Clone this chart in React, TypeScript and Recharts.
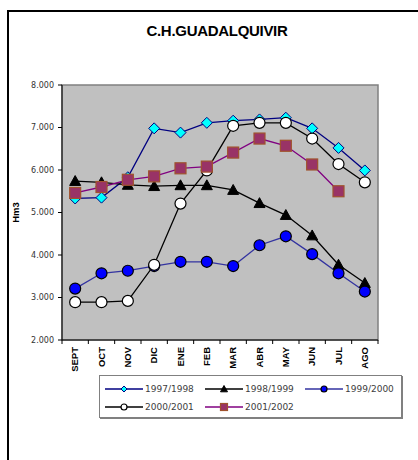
import { LineChart, Line, XAxis, YAxis, CartesianGrid, Label, usePlotArea } from "recharts"

const months = ["SEPT", "OCT", "NOV", "DIC", "ENE", "FEB", "MAR", "ABR", "MAY", "JUN", "JUL", "AGO"]
const yTicks = [2000, 3000, 4000, 5000, 6000, 7000, 8000]

const s9798 = [5330, 5350, 5830, 6980, 6880, 7110, 7160, 7190, 7230, 6980, 6520, 5990]
const s9899 = [5740, 5710, 5650, 5620, 5640, 5640, 5530, 5220, 4940, 4460, 3770, 3340]
const s9900 = [3210, 3570, 3630, 3740, 3840, 3840, 3740, 4230, 4440, 4020, 3570, 3140]
const s0001 = [2890, 2890, 2920, 3770, 5210, 5990, 7040, 7110, 7110, 6740, 6140, 5710]
const s0102 = [5460, 5600, 5770, 5850, 6040, 6080, 6410, 6740, 6570, 6130, 5500, null]

const data = months.map((m, i) => ({
  mes: m,
  a: s9798[i],
  b: s9899[i],
  c: s9900[i],
  d: s0001[i],
  e: s0102[i],
}))

const CHART_W = 418
const CHART_H = 460
const MARGIN = { top: 85, right: 40, left: 8, bottom: 80 }
const Y_AXIS_W = 54
const BAND = (CHART_W - MARGIN.left - MARGIN.right - Y_AXIS_W) / months.length

// marcadores
const Diamond = ({ cx, cy, r = 5.5, fill = "#00FFFF", stroke = "#000080" }: any) => (
  <path d={`M${cx},${cy - r}L${cx + r},${cy}L${cx},${cy + r}L${cx - r},${cy}Z`} fill={fill} stroke={stroke} strokeWidth={1} />
)
const Triangle = ({ cx, cy, r = 5.5 }: any) => (
  <path d={`M${cx},${cy - r}L${cx + r},${cy + r * 0.8}L${cx - r},${cy + r * 0.8}Z`} fill="#000" stroke="#000" strokeWidth={1} />
)
const Circle = ({ cx, cy, r = 5.5, fill }: any) => (
  <circle cx={cx} cy={cy} r={r} fill={fill} stroke="#000" strokeWidth={1.2} />
)
const Square = ({ cx, cy, r = 5.5 }: any) => (
  <rect x={cx - r} y={cy - r} width={r * 2} height={r * 2} fill="#993366" stroke="#A0522D" strokeWidth={1.2} />
)

const dotFn = (Comp: any, extra: any = {}) => (p: any) => {
  if (p.cx == null || p.cy == null || p.value == null) return <g key={`n-${p.index}`} />
  return <Comp key={`d-${p.index}`} cx={p.cx} cy={p.cy} {...extra} />
}

const formatTick = (v: number) => v.toLocaleString("de-DE", { minimumFractionDigits: 0 }).replace(",", ".")

const MonthTick = ({ x, y, payload, index }: any) => (
  <g>
    <line x1={x - BAND / 2} x2={x - BAND / 2} y1={y} y2={y + 4} stroke="#000" />
    {index === months.length - 1 && (
      <line x1={x + BAND / 2} x2={x + BAND / 2} y1={y} y2={y + 4} stroke="#000" />
    )}
    <text
      transform={`translate(${x},${y + 7}) rotate(-90)`}
      textAnchor="end"
      dy="0.35em"
      fontFamily="'Liberation Sans', Arial, sans-serif"
      fontWeight="bold"
      fontSize={9.5}
      fill="#000"
    >
      {payload.value}
    </text>
  </g>
)

function PlotFrame() {
  const area = usePlotArea()
  if (!area) return null
  return (
    <rect x={area.x} y={area.y} width={area.width} height={area.height} fill="none" stroke="#808080" strokeWidth={1.5} />
  )
}

const legendRows = [
  [
    { name: "1997/1998", color: "#000080", icon: "diamond" },
    { name: "1998/1999", color: "#000000", icon: "triangle" },
    { name: "1999/2000", color: "#3333A0", icon: "blue" },
  ],
  [
    { name: "2000/2001", color: "#000000", icon: "white" },
    { name: "2001/2002", color: "#800080", icon: "square" },
  ],
]

function LegendIcon({ icon, color }: any) {
  const cx = 19
  const cy = 5
  return (
    <svg width={38} height={10} style={{ display: "block" }}>
      <line x1={0} x2={38} y1={cy} y2={cy} stroke={color} strokeWidth={1.3} />
      {icon === "diamond" && <Diamond cx={cx} cy={cy} r={3} />}
      {icon === "triangle" && <Triangle cx={cx} cy={cy} r={3.5} />}
      {icon === "blue" && <Circle cx={cx} cy={cy} r={3} fill="#0000FF" />}
      {icon === "white" && <Circle cx={cx} cy={cy} r={3} fill="#FFFFFF" />}
      {icon === "square" && <Square cx={cx} cy={cy} r={3.5} />}
    </svg>
  )
}

export default function App() {
  return (
    <div style={{ position: "relative", width: CHART_W, height: CHART_H, overflow: "hidden", background: "#fff" }}>
      <style>{`body{margin:0}`}</style>
      <div
        style={{
          position: "absolute",
          left: 7,
          top: 10,
          width: 440,
          height: 480,
          border: "2px solid #000",
          boxSizing: "border-box",
        }}
      />
      <div
        style={{
          position: "absolute",
          left: 0,
          top: 22,
          width: CHART_W + 16,
          textAlign: "center",
          fontFamily: "'Liberation Sans', Arial, sans-serif",
          fontWeight: "bold",
          fontSize: 15,
          letterSpacing: -0.3,
        }}
      >
        C.H.GUADALQUIVIR
      </div>
      <div style={{ position: "absolute", left: 0, top: 0 }}>
        <LineChart width={CHART_W} height={CHART_H} data={data} margin={MARGIN}>
          <CartesianGrid horizontal={false} vertical={false} fill="#C0C0C0" stroke="none" />
          <PlotFrame />
          <XAxis
            dataKey="mes"
            scale="band"
            interval={0}
            height={40}
            tickSize={0}
            tickMargin={0}
            tickLine={false}
            axisLine={{ stroke: "#000" }}
            tick={<MonthTick />}
          />
          <YAxis
            width={Y_AXIS_W}
            domain={[2000, 8000]}
            ticks={yTicks}
            interval={0}
            tickFormatter={formatTick}
            tickSize={4}
            tickMargin={4}
            tickLine={{ stroke: "#000" }}
            axisLine={{ stroke: "#000" }}
            tick={{ fontSize: 8, fill: "#333", fontFamily: "'DejaVu Sans', sans-serif" }}
          >
            <Label
              value="Hm3"
              angle={-90}
              position="insideLeft"
              offset={8}
              style={{ fontSize: 9.5, fontWeight: "bold", fill: "#000", fontFamily: "'Liberation Sans', Arial, sans-serif", textAnchor: "middle" }}
            />
          </YAxis>
          <Line dataKey="a" stroke="#000080" strokeWidth={1.3} dot={dotFn(Diamond)} isAnimationActive={false} />
          <Line dataKey="b" stroke="#000000" strokeWidth={1.3} dot={dotFn(Triangle)} isAnimationActive={false} />
          <Line dataKey="c" stroke="#3333A0" strokeWidth={1.3} dot={dotFn(Circle, { fill: "#0000FF" })} isAnimationActive={false} />
          <Line dataKey="d" stroke="#000000" strokeWidth={1.3} dot={dotFn(Circle, { fill: "#FFFFFF" })} isAnimationActive={false} />
          <Line dataKey="e" stroke="#800080" strokeWidth={1.3} dot={dotFn(Square)} isAnimationActive={false} connectNulls={false} />
        </LineChart>
      </div>
      <div
        style={{
          position: "absolute",
          left: 99,
          top: 375,
          width: 303,
          height: 43,
          boxSizing: "border-box",
          border: "1px solid #808080",
          boxShadow: "1px 1px 0 #808080",
          background: "#fff",
          padding: "4px 0 0 5px",
          fontFamily: "'DejaVu Sans', sans-serif",
          fontSize: 9,
          color: "#404040",
          whiteSpace: "nowrap",
        }}
      >
        {legendRows.map((row, r) => (
          <div key={r} style={{ display: "flex", height: 18 }}>
            {row.map((it) => (
              <div key={it.name} style={{ width: 100, flex: "0 0 100px", display: "flex", alignItems: "center" }}>
                <LegendIcon icon={it.icon} color={it.color} />
                <span style={{ marginLeft: 2 }}>{it.name}</span>
              </div>
            ))}
          </div>
        ))}
      </div>
    </div>
  )
}
